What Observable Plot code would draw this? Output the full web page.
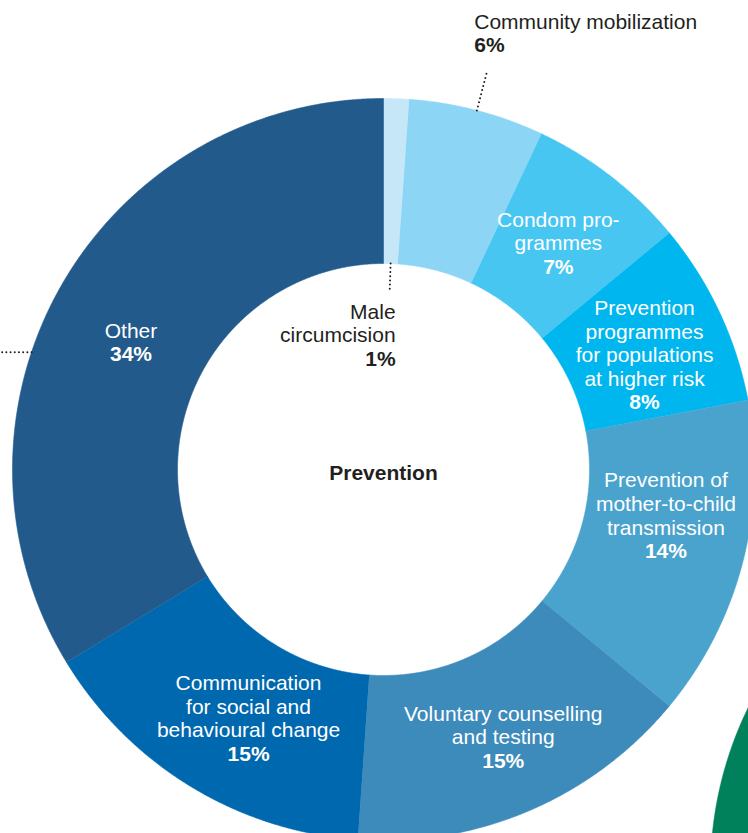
<!DOCTYPE html>
<html><head><meta charset="utf-8">
<script src="https://cdn.jsdelivr.net/npm/d3@7"></script>
<script src="https://cdn.jsdelivr.net/npm/@observablehq/plot@0.6"></script>
<style>html,body{margin:0;padding:0;background:#fff;overflow:hidden}#chart svg{display:block}</style>
</head><body><div id="chart"></div>
<script>
// ---- data ----
const categories = [
  "Male circumcision",
  "Community mobilization",
  "Condom programmes",
  "Prevention programmes for populations at higher risk",
  "Prevention of mother-to-child transmission",
  "Voluntary counselling and testing",
  "Communication for social and behavioural change",
  "Other"
];
const labelText = [
  "Male\ncircumcision",
  "Community mobilization",
  "Condom pro-\ngrammes",
  "Prevention\nprogrammes\nfor populations\nat higher risk",
  "Prevention of\nmother-to-child\ntransmission",
  "Voluntary counselling\nand testing",
  "Communication\nfor social and\nbehavioural change",
  "Other"
];
const shares = [1.1, 5.9, 7.0, 8.0, 14.0, 15.1, 15.2, 33.7];
const percentLabels = ["1%", "6%", "7%", "8%", "14%", "15%", "15%", "34%"];
const sliceColors = ["#c6e7f8", "#8dd5f5", "#47c6f2", "#00b6ee", "#4aa3cd", "#3d8bbb", "#0068ae", "#215a8b"];
const centerTitle = "Prevention";
// neighbouring chart, only partly visible in the corner
const neighbourCategories = ["Neighbouring chart"];
const neighbourColors = ["#00815b"];

// ---- layout (pixels) ----
const W = 748, H = 833, RPX = 371, CX = 383, CY = 469;
const rIn = 206 / RPX, rOut = 1;
const px = v => v / RPX;
const dark = "#231f20";
const font = "'Liberation Sans', Arial, Helvetica, sans-serif";

const pie = d3.pie().sort(null).value(d => d.share);
const slices = pie(categories.map((c, i) => ({name: c, share: shares[i]})));

function ring(name, a0, a1, r0, r1, ox = 0, oy = 0) {
  const pts = [];
  const n = Math.max(2, Math.ceil((a1 - a0) / (Math.PI / 720)));
  for (let k = 0; k <= n; k++) { const a = a0 + (a1 - a0) * k / n; pts.push({name, x: ox + r1 * Math.sin(a), y: oy + r1 * Math.cos(a)}); }
  for (let k = n; k >= 0; k--) { const a = a0 + (a1 - a0) * k / n; pts.push({name, x: ox + r0 * Math.sin(a), y: oy + r0 * Math.cos(a)}); }
  return pts;
}

const ringPts = slices.flatMap(s => ring(s.data.name, s.startAngle, s.endAngle, rIn, rOut));
const nPie = d3.pie().sort(null).value(() => 1).startAngle(Math.PI).endAngle(2 * Math.PI);
const nSlices = nPie(neighbourCategories);
const nPts = nSlices.flatMap(s => ring(s.data, s.startAngle, s.endAngle, rIn, rOut, px(1081 - CX), px(CY - 870)));

// label nudges (pixels, dx right, dy down) from slice centroid
const nudge = {
  "Condom programmes": [-2, 1],
  "Prevention programmes for populations at higher risk": [0, 8],
  "Prevention of mother-to-child transmission": [3, -26],
  "Voluntary counselling and testing": [6, 2],
  "Communication for social and behavioural change": [15, 2],
  "Other": [-1, 14]
};
const mid = s => (s.startAngle + s.endAngle) / 2;
const rMid = (rIn + rOut) / 2;
const inside = slices.map((s, i) => ({s, i})).filter(d => nudge[d.s.data.name]).map(({s, i}) => {
  const [dx, dy] = nudge[s.data.name];
  const nLines = labelText[i].split("\n").length;
  return {
    x: rMid * Math.sin(mid(s)) + px(dx),
    y: rMid * Math.cos(mid(s)) - px(dy),
    name: labelText[i] + "\n",
    pct: "\n".repeat(nLines) + percentLabels[i]
  };
});

// leaders
const sMale = slices[0], sComm = slices[1];
const maleA = mid(sMale), commA = mid(sComm);
const maleEnd = {x: (rIn - px(29)) * Math.sin(maleA), y: (rIn - px(29)) * Math.cos(maleA)};
const commEnd = {x: (rOut + px(41)) * Math.sin(commA), y: (rOut + px(41)) * Math.cos(commA)};
const otherLabel = inside.find(d => d.name.startsWith("Other"));
const otherLeaderY = otherLabel.y - px(10);
const leaders = [
  {x1: rIn * Math.sin(maleA), y1: rIn * Math.cos(maleA), x2: maleEnd.x, y2: maleEnd.y},
  {x1: rOut * Math.sin(commA), y1: rOut * Math.cos(commA), x2: commEnd.x, y2: commEnd.y},
  {x1: -Math.sqrt(1 - otherLeaderY * otherLeaderY), y1: otherLeaderY, x2: -CX / RPX, y2: otherLeaderY}
];
const outsideEnd = [{x: maleEnd.x + px(6), y: maleEnd.y - px(42), name: labelText[0] + "\n", pct: "\n\n" + percentLabels[0]}];
const outsideStart = [{x: commEnd.x - px(13), y: commEnd.y + px(38), name: labelText[1] + "\n", pct: "\n" + percentLabels[1]}];

const common = {fontFamily: font, fontSize: 21, lineHeight: 1.12, lineAnchor: "middle"};

const chart = Plot.plot({
  width: W, height: H, margin: 0,
  style: {background: "#fff", overflow: "hidden"},
  x: {domain: [-CX / RPX, (W - CX) / RPX], axis: null},
  y: {domain: [-(H - CY) / RPX, CY / RPX], axis: null},
  color: {domain: [...categories, ...neighbourCategories], range: [...sliceColors, ...neighbourColors]},
  marks: [
    Plot.line(nPts, {x: "x", y: "y", z: "name", fill: "name", stroke: "name", strokeWidth: 0.5, curve: "linear"}),
    Plot.line(ringPts, {x: "x", y: "y", z: "name", fill: "name", stroke: "name", strokeWidth: 0.6, curve: "linear"}),
    Plot.link(leaders, {x1: "x1", y1: "y1", x2: "x2", y2: "y2", stroke: dark, strokeWidth: 2, strokeDasharray: "0,4.2", strokeLinecap: "round"}),
    Plot.text(inside, {x: "x", y: "y", text: "name", fill: "#fff", ...common}),
    Plot.text(inside, {x: "x", y: "y", text: "pct", fill: "#fff", fontWeight: "bold", ...common}),
    Plot.text(outsideEnd, {x: "x", y: "y", text: "name", textAnchor: "end", fill: dark, ...common}),
    Plot.text(outsideEnd, {x: "x", y: "y", text: "pct", textAnchor: "end", fill: dark, fontWeight: "bold", ...common}),
    Plot.text(outsideStart, {x: "x", y: "y", text: "name", textAnchor: "start", fill: dark, ...common}),
    Plot.text(outsideStart, {x: "x", y: "y", text: "pct", textAnchor: "start", fill: dark, fontWeight: "bold", ...common}),
    Plot.text([centerTitle], {x: () => 0, y: () => -px(3), text: d => d, fill: dark, fontWeight: "bold", ...common})
  ]
});
document.getElementById("chart").appendChild(chart);
</script>
</body></html>
